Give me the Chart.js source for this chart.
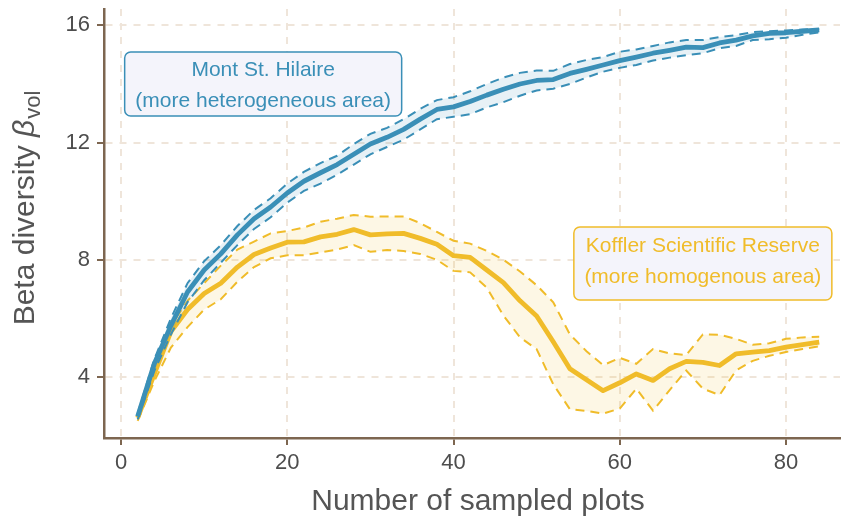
<!DOCTYPE html>
<html lang="en">
<head>
<meta charset="UTF-8">
<title>Beta diversity vs number of sampled plots</title>
<script src="https://cdn.jsdelivr.net/npm/chart.js"></script>
<style>
  html, body { margin: 0; padding: 0; background: #fff; }
  canvas { display: block; }
</style>
</head>
<body>
<canvas id="chart" width="845" height="517"></canvas>
<script>
// number of sampled plots
const plots = [2, 4, 6, 8, 10, 12, 14, 16, 18, 20, 22, 24, 26, 28, 30, 32, 34, 36, 38, 40, 42,
               44, 46, 48, 50, 52, 54, 56, 58, 60, 62, 64, 66, 68, 70, 72, 74, 76, 78, 80, 82, 84];

// Mont St. Hilaire
const hilaireMean  = [2.65, 4.45, 5.75, 6.9, 7.65, 8.2, 8.85, 9.4, 9.8, 10.28, 10.68, 10.97, 11.25, 11.6, 11.95, 12.18, 12.45, 12.8, 13.13, 13.22, 13.4,
                      13.62, 13.82, 14.0, 14.12, 14.15, 14.36, 14.5, 14.65, 14.8, 14.92, 15.05, 15.15, 15.26, 15.24, 15.4, 15.5, 15.64, 15.73, 15.75, 15.8, 15.85];
const hilaireUpper = [2.75, 4.6, 6.0, 7.2, 7.95, 8.5, 9.15, 9.7, 10.1, 10.6, 11.0, 11.3, 11.55, 11.95, 12.3, 12.5, 12.8, 13.15, 13.45, 13.55, 13.75,
                      14.0, 14.22, 14.38, 14.46, 14.45, 14.68, 14.82, 14.92, 15.1, 15.18, 15.3, 15.42, 15.5, 15.5, 15.6, 15.67, 15.77, 15.8, 15.83, 15.86, 15.88];
const hilaireLower = [2.55, 4.2, 5.45, 6.55, 7.3, 7.9, 8.5, 9.05, 9.45, 9.95, 10.35, 10.6, 10.9, 11.25, 11.6, 11.85, 12.1, 12.45, 12.8, 12.88, 12.97,
                      13.2, 13.38, 13.6, 13.78, 13.84, 14.0, 14.22, 14.42, 14.55, 14.65, 14.8, 14.9, 14.98, 15.05, 15.22, 15.3, 15.5, 15.53, 15.58, 15.68, 15.76];

// Koffler Scientific Reserve
const kofflerMean  = [2.6, 4.1, 5.55, 6.3, 6.85, 7.2, 7.75, 8.18, 8.4, 8.6, 8.61, 8.78, 8.87, 9.03, 8.85, 8.88, 8.9, 8.73, 8.53, 8.14, 8.08,
                      7.65, 7.22, 6.6, 6.08, 5.2, 4.28, 3.9, 3.53, 3.8, 4.1, 3.88, 4.28, 4.53, 4.5, 4.39, 4.79, 4.85, 4.9, 5.02, 5.1, 5.19];
const kofflerUpper = [2.7, 4.2, 5.75, 6.6, 7.2, 7.8, 8.35, 8.62, 8.9, 8.98, 9.1, 9.3, 9.4, 9.53, 9.47, 9.48, 9.48, 9.25, 8.95, 8.65, 8.55,
                      8.3, 8.0, 7.6, 7.13, 6.55, 5.45, 4.88, 4.4, 4.65, 4.45, 4.95, 4.8, 4.75, 5.45, 5.44, 5.3, 5.1, 5.15, 5.3, 5.35, 5.37];
const kofflerLower = [2.5, 3.85, 5.0, 5.7, 6.3, 6.65, 7.25, 7.75, 8.05, 8.15, 8.15, 8.25, 8.35, 8.5, 8.27, 8.33, 8.3, 8.2, 8.0, 7.62, 7.57,
                      7.05, 6.1, 5.35, 4.95, 3.75, 2.9, 2.84, 2.75, 2.92, 3.6, 2.85, 3.55, 4.22, 3.6, 3.38, 4.22, 4.55, 4.72, 4.85, 4.95, 5.05];

const xTicks = [0, 20, 40, 60, 80];
const yTicks = [4, 8, 12, 16];

const BLUE = '#3a8fb7';
const YELLOW = '#f0bc2a';
const FONT = '"Liberation Sans", Arial, Helvetica, sans-serif';

const notes = [
  { x: 17.1, y: 14.0, w: 277, h: 64, color: BLUE, lines: ['Mont St. Hilaire', '(more heterogeneous area)'] },
  { x: 70.0, y: 7.87, w: 258, h: 73, color: YELLOW, lines: ['Koffler Scientific Reserve', '(more homogenous area)'] }
];

function pts(values) {
  return plots.map((p, i) => ({ x: p, y: values[i] }));
}

function band(values, color, fill, order) {
  return {
    data: pts(values),
    borderColor: color,
    borderWidth: 2,
    borderDash: [9, 6],
    backgroundColor: fill,
    fill: fill ? '-1' : false,
    pointRadius: 0,
    tension: 0,
    order: order
  };
}

function mean(values, color, order) {
  return {
    data: pts(values),
    borderColor: color,
    borderWidth: 4.8,
    fill: false,
    pointRadius: 0,
    tension: 0,
    borderJoinStyle: 'round',
    order: order
  };
}

const overlay = {
  id: 'overlay',
  afterDatasetsDraw(chart) {
    const ctx = chart.ctx;
    const sx = chart.scales.x, sy = chart.scales.y;
    ctx.save();
    ctx.font = '21px ' + FONT;
    ctx.textAlign = 'center';
    ctx.textBaseline = 'alphabetic';
    notes.forEach(n => {
      const cx = sx.getPixelForValue(n.x);
      const cy = sy.getPixelForValue(n.y);
      const left = cx - n.w / 2, top = cy - n.h / 2;
      ctx.beginPath();
      ctx.roundRect(left, top, n.w, n.h, 6);
      ctx.fillStyle = '#f4f4fb';
      ctx.fill();
      ctx.lineWidth = 1.5;
      ctx.strokeStyle = n.color;
      ctx.stroke();
      ctx.fillStyle = n.color;
      ctx.fillText(n.lines[0], cx, top + 24.5);
      ctx.fillText(n.lines[1], cx, top + 55.5);
    });
    ctx.restore();
  },
  afterDraw(chart) {
    const ctx = chart.ctx;
    const area = chart.chartArea;
    ctx.save();
    ctx.fillStyle = '#555555';
    // x axis title
    ctx.font = '30px ' + FONT;
    ctx.textAlign = 'center';
    ctx.textBaseline = 'alphabetic';
    ctx.fillText('Number of sampled plots', (area.left + area.right) / 2 + 6, 510);

    // y axis title with italic beta and subscript
    const main = 'Beta diversity ';
    ctx.font = '30px ' + FONT;
    const w1 = ctx.measureText(main).width;
    ctx.font = 'italic 30px ' + FONT;
    const w2 = ctx.measureText('\u03b2').width;
    ctx.font = '22px ' + FONT;
    const w3 = ctx.measureText('vol').width;
    const total = w1 + w2 + 1 + w3;
    const centerY = 208;
    ctx.translate(34, centerY + total / 2);
    ctx.rotate(-Math.PI / 2);
    ctx.textAlign = 'left';
    ctx.font = '30px ' + FONT;
    ctx.fillText(main, 0, 0);
    ctx.font = 'italic 30px ' + FONT;
    ctx.fillText('\u03b2', w1, 0);
    ctx.font = '22px ' + FONT;
    ctx.fillText('vol', w1 + w2 + 1, 6);
    ctx.restore();
  }
};

const gridColor = '#efe5da';
const axisColor = '#7d6650';

new Chart(document.getElementById('chart').getContext('2d'), {
  type: 'line',
  data: {
    datasets: [
      band(kofflerLower, YELLOW, null, 5),
      band(kofflerUpper, YELLOW, 'rgba(240,188,42,0.12)', 4),
      mean(kofflerMean, YELLOW, 3),
      band(hilaireLower, BLUE, null, 2),
      band(hilaireUpper, BLUE, 'rgba(58,143,183,0.12)', 1),
      mean(hilaireMean, BLUE, 0)
    ]
  },
  options: {
    responsive: false,
    animation: false,
    layout: { padding: { top: 9, right: 5, left: 0, bottom: 0 } },
    plugins: {
      legend: { display: false },
      tooltip: { enabled: false },
      filler: { propagate: false }
    },
    scales: {
      x: {
        type: 'linear',
        min: -2.05,
        max: 86.5,
        afterBuildTicks: s => { s.ticks = xTicks.map(v => ({ value: v })); },
        afterFit: s => { s.height = 79; s.paddingLeft = 0; s.paddingRight = 0; },
        grid: { color: gridColor, lineWidth: 2, tickColor: axisColor, tickLength: 7, tickWidth: 2 },
        border: { color: axisColor, width: 2.5, dash: [7, 7] },
        ticks: { color: '#4d4d4d', font: { family: FONT, size: 22 }, padding: 5, maxRotation: 0 }
      },
      y: {
        min: 1.915,
        max: 16.56,
        afterBuildTicks: s => { s.ticks = yTicks.map(v => ({ value: v })); },
        afterFit: s => { s.width = 104; s.paddingTop = 0; s.paddingBottom = 0; },
        grid: { color: gridColor, lineWidth: 2, tickColor: axisColor, tickLength: 7, tickWidth: 2 },
        border: { color: axisColor, width: 2.5, dash: [7, 7] },
        ticks: { color: '#4d4d4d', font: { family: FONT, size: 22 }, padding: 7 }
      }
    }
  },
  plugins: [overlay]
});
</script>
</body>
</html>
